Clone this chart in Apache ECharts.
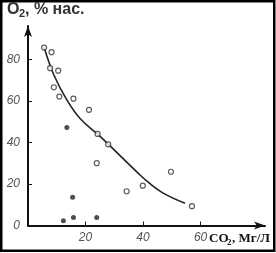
<!DOCTYPE html>
<html>
<head>
<meta charset="utf-8">
<script src="https://cdn.jsdelivr.net/npm/echarts@6/dist/echarts.min.js"></script>
<style>html,body{margin:0;padding:0;background:#fff}#c{width:276px;height:253px}</style>
</head>
<body>
<div id="c"></div>
<script>
// Data
var yTickValues = [20, 40, 60, 80];
var yLabelValues = [0, 20, 40, 60, 80];
var xTickValues = [20, 40, 60];
var openPoints = [[5.6,85.7],[8.2,83.5],[7.7,75.8],[10.5,74.6],[9.0,66.6],[10.9,62.1],[15.8,61.1],[21.2,55.7],[24.2,44.1],[27.9,39.1],[23.9,30.0],[34.3,16.5],[39.9,19.2],[49.7,25.9],[57.0,9.3]];
var filledPoints = [[13.5,47.2],[15.5,13.6],[12.3,2.3],[15.8,3.8],[23.9,3.8]];
var curvePoints = [[5.6,85.7],[9,72.5],[13.5,60.5],[18.1,51.5],[24.2,44],[27.9,39.2],[33,32.3],[38,25.6],[42,20.6],[47,15.6],[54.6,10.7]];

var chart = echarts.init(document.getElementById('c'), null, {renderer:'canvas'});
var labelStyle = {fontFamily:'Liberation Sans', fontStyle:'italic', fontSize:12, color:'#555'};
chart.setOption({
  animation:false,
  grid:{left:28, right:11, top:26, bottom:27.5},
  xAxis:{type:'value', min:0, max:82.4,
    axisLine:{show:true, lineStyle:{color:'#111', width:2}, symbol:['none','arrow'], symbolSize:[6,11]},
    axisTick:{show:true, inside:true, length:4, customValues:xTickValues, lineStyle:{color:'#111', width:1}},
    axisLabel:Object.assign({customValues:xTickValues, margin:6}, labelStyle),
    splitLine:{show:false}},
  yAxis:{type:'value', min:0, max:96.1,
    axisLine:{show:true, lineStyle:{color:'#111', width:2}, symbol:['none','arrow'], symbolSize:[6,11]},
    axisTick:{show:true, inside:true, length:4, customValues:yTickValues, lineStyle:{color:'#111', width:1}},
    axisLabel:Object.assign({customValues:yLabelValues, margin:8}, labelStyle),
    splitLine:{show:false}},
  series:[
    {type:'line', data:curvePoints, smooth:0.4, showSymbol:false, lineStyle:{color:'#222', width:1.6}, z:2},
    {type:'scatter', data:openPoints, symbol:'circle', symbolSize:5, itemStyle:{color:'#fff', borderColor:'#333', borderWidth:1.2}, z:3},
    {type:'scatter', data:filledPoints, symbol:'circle', symbolSize:5, itemStyle:{color:'#222'}, z:3}
  ],
  graphic:[
    {type:'rect', shape:{x:1.25, y:1.25, width:273, height:249.5}, style:{fill:null, stroke:'#000', lineWidth:2.5}, silent:true},
    {type:'text', x:7, y:2, style:{text:'O', font:'bold 16px "Liberation Sans"', fill:'#333', verticalAlign:'top'}},
    {type:'text', x:19, y:8, style:{text:'2', font:'bold 11px "Liberation Sans"', fill:'#333', verticalAlign:'top'}},
    {type:'text', x:25, y:2, style:{text:', % нас.', font:'bold 16px "Liberation Sans"', fill:'#333', verticalAlign:'top'}},
    {type:'text', x:209, y:232, style:{text:'CO', font:'bold 13px "Liberation Serif"', fill:'#111', verticalAlign:'top'}},
    {type:'text', x:227, y:238, style:{text:'2', font:'bold 9px "Liberation Serif"', fill:'#111', verticalAlign:'top'}},
    {type:'text', x:232, y:232, style:{text:', Мг/Л', font:'bold 13px "Liberation Serif"', fill:'#111', verticalAlign:'top'}}
  ]
});
</script>
</body>
</html>
